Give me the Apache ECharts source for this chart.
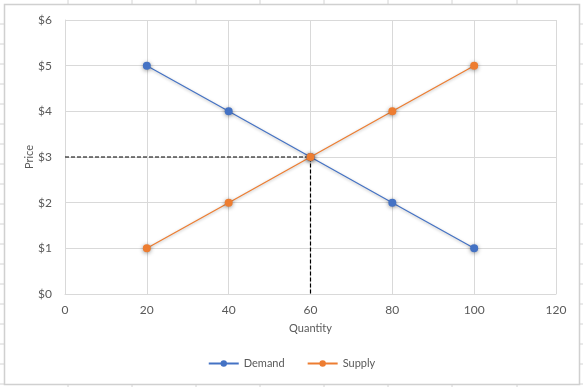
<!DOCTYPE html>
<html><head><meta charset="utf-8">
<script src="https://cdn.jsdelivr.net/npm/echarts@6/dist/echarts.min.js"></script>
<style>html,body{margin:0;padding:0;background:#fff}#c{width:583px;height:387px}</style>
</head><body><div id="c"></div>
<script>
const quantities = [20, 40, 60, 80, 100];
const demandPrices = [5, 4, 3, 2, 1];
const supplyPrices = [1, 2, 3, 4, 5];
const eqQuantity = 60;
const eqPrice = 3;
const xTicks = [0, 20, 40, 60, 80, 100, 120];
const yTicks = [0, 1, 2, 3, 4, 5, 6];

const chart = echarts.init(document.getElementById('c'), null, {renderer: 'canvas'});
const font = 'Lato, "Open Sans", sans-serif';
const lblColor = '#595959';

// spreadsheet cell lines around the chart (decoration)
const gfx = [];
const colXs = [68, 132, 196, 260, 324, 388, 452, 517];
colXs.forEach(x => {
  gfx.push({type:'line', shape:{x1:x,y1:0,x2:x,y2:4}, style:{stroke:'#d4d4d4', lineWidth:1}, silent:true});
  gfx.push({type:'line', shape:{x1:x,y1:385,x2:x,y2:387}, style:{stroke:'#d4d4d4', lineWidth:1}, silent:true});
});
for (let y = 24; y < 387; y += 20) {
  gfx.push({type:'line', shape:{x1:0,y1:y,x2:4,y2:y}, style:{stroke:'#d4d4d4', lineWidth:1}, silent:true});
  gfx.push({type:'line', shape:{x1:580,y1:y,x2:583,y2:y}, style:{stroke:'#d4d4d4', lineWidth:1}, silent:true});
}
gfx.push({type:'rect', shape:{x:4.5,y:4.5,width:575,height:380}, style:{fill:'none', stroke:'#d0d0d0', lineWidth:1.5}, silent:true});

chart.setOption({
  animation: false,
  backgroundColor: '#fff',
  graphic: gfx,
  grid: {left: 65, right: 27, top: 20, bottom: 93},
  legend: {
    data: ['Demand', 'Supply'],
    bottom: 13, left: 'center',
    itemWidth: 30, itemHeight: 8, itemGap: 22,
    textStyle: {fontFamily: font, fontSize: 11, color: lblColor}
  },
  xAxis: {
    type: 'value', min: xTicks[0], max: xTicks[xTicks.length-1], interval: 20,
    name: 'Quantity', nameLocation: 'middle', nameGap: 29,
    nameTextStyle: {fontFamily: font, fontSize: 11, color: lblColor},
    axisLine: {show: true, lineStyle: {color: '#d9d9d9'}},
    axisTick: {show: false},
    axisLabel: {fontFamily: font, fontSize: 12, color: lblColor, margin: 10},
    splitLine: {show: true, lineStyle: {color: '#d9d9d9'}}
  },
  yAxis: {
    type: 'value', min: yTicks[0], max: yTicks[yTicks.length-1], interval: 1,
    name: 'Price', nameLocation: 'middle', nameGap: 30, nameRotate: 90,
    nameMoveOverlap: false,
    nameTextStyle: {fontFamily: font, fontSize: 11, color: lblColor},
    axisLine: {show: true, lineStyle: {color: '#d9d9d9'}},
    axisTick: {show: false},
    axisLabel: {fontFamily: font, fontSize: 12, color: lblColor, margin: 13, formatter: v => '$' + v},
    splitLine: {show: true, lineStyle: {color: '#d9d9d9'}}
  },
  series: [
    {
      name: 'Equilibrium', type: 'line', data: [[0, eqPrice], [eqQuantity, eqPrice], [eqQuantity, 0]],
      symbol: 'none', lineStyle: {color: '#000', width: 1.2, type: [4, 2]}, z: 1, silent: true
    },
    {
      name: 'Demand', type: 'line', data: quantities.map((q, i) => [q, demandPrices[i]]),
      color: '#4472C4', symbol: 'circle', symbolSize: 8,
      lineStyle: {width: 1.2, shadowColor: 'rgba(0,0,0,0.3)', shadowBlur: 3, shadowOffsetY: 1},
      itemStyle: {shadowColor: 'rgba(0,0,0,0.4)', shadowBlur: 4, shadowOffsetY: 1}, z: 2
    },
    {
      name: 'Supply', type: 'line', data: quantities.map((q, i) => [q, supplyPrices[i]]),
      color: '#ED7D31', symbol: 'circle', symbolSize: 8,
      lineStyle: {width: 1.2, shadowColor: 'rgba(0,0,0,0.3)', shadowBlur: 3, shadowOffsetY: 1},
      itemStyle: {shadowColor: 'rgba(0,0,0,0.4)', shadowBlur: 4, shadowOffsetY: 1}, z: 3
    }
  ]
});
</script></body></html>
